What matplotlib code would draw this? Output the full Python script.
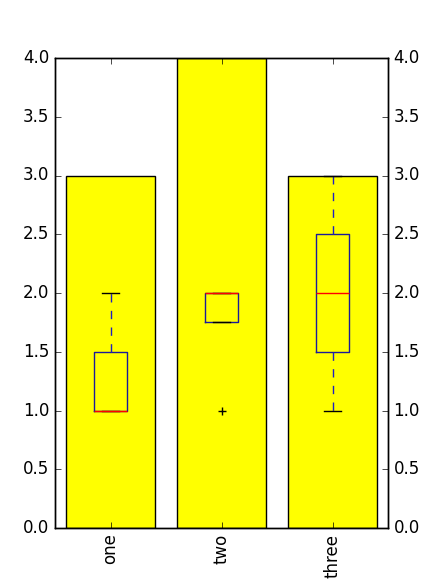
import matplotlib
matplotlib.use("Agg")
import matplotlib.pyplot as plt

plt.style.use('classic')

categories = ["one", "two", "three"]
bar_values = [3, 4, 3]
box_one = [1, 1, 2]
box_two = [1, 2, 2, 2]
box_three = [1, 2, 3]

fig = plt.figure(figsize=(4.30, 5.87), dpi=100)
ax = fig.add_axes([55/430, 1 - 528/587, 333/430, 470/587])
pos = list(range(len(categories)))
ax.bar(pos, bar_values, width=0.8, align='center', color='yellow', edgecolor='black')
ax.set_xlim(-0.5, 2.5)
ax.set_ylim(0, 4)
ax.set_xticks(pos)
ax.set_xticklabels(categories, rotation=90)

ax2 = ax.twinx()
ax2.boxplot([box_one, box_two, box_three], positions=pos, widths=0.3,
            boxprops=dict(color='#1a1a9a'),
            whiskerprops=dict(color='#2020c0', linestyle='--'),
            capprops=dict(color='black'),
            medianprops=dict(color='red'),
            flierprops=dict(marker='+', markeredgecolor='black'))
ax2.set_xlim(-0.5, 2.5)
ax2.set_ylim(0, 4)
ax2.set_xticks(pos)
ax.set_xticklabels(categories, rotation=90)

fig.savefig("out.png", dpi=100)
